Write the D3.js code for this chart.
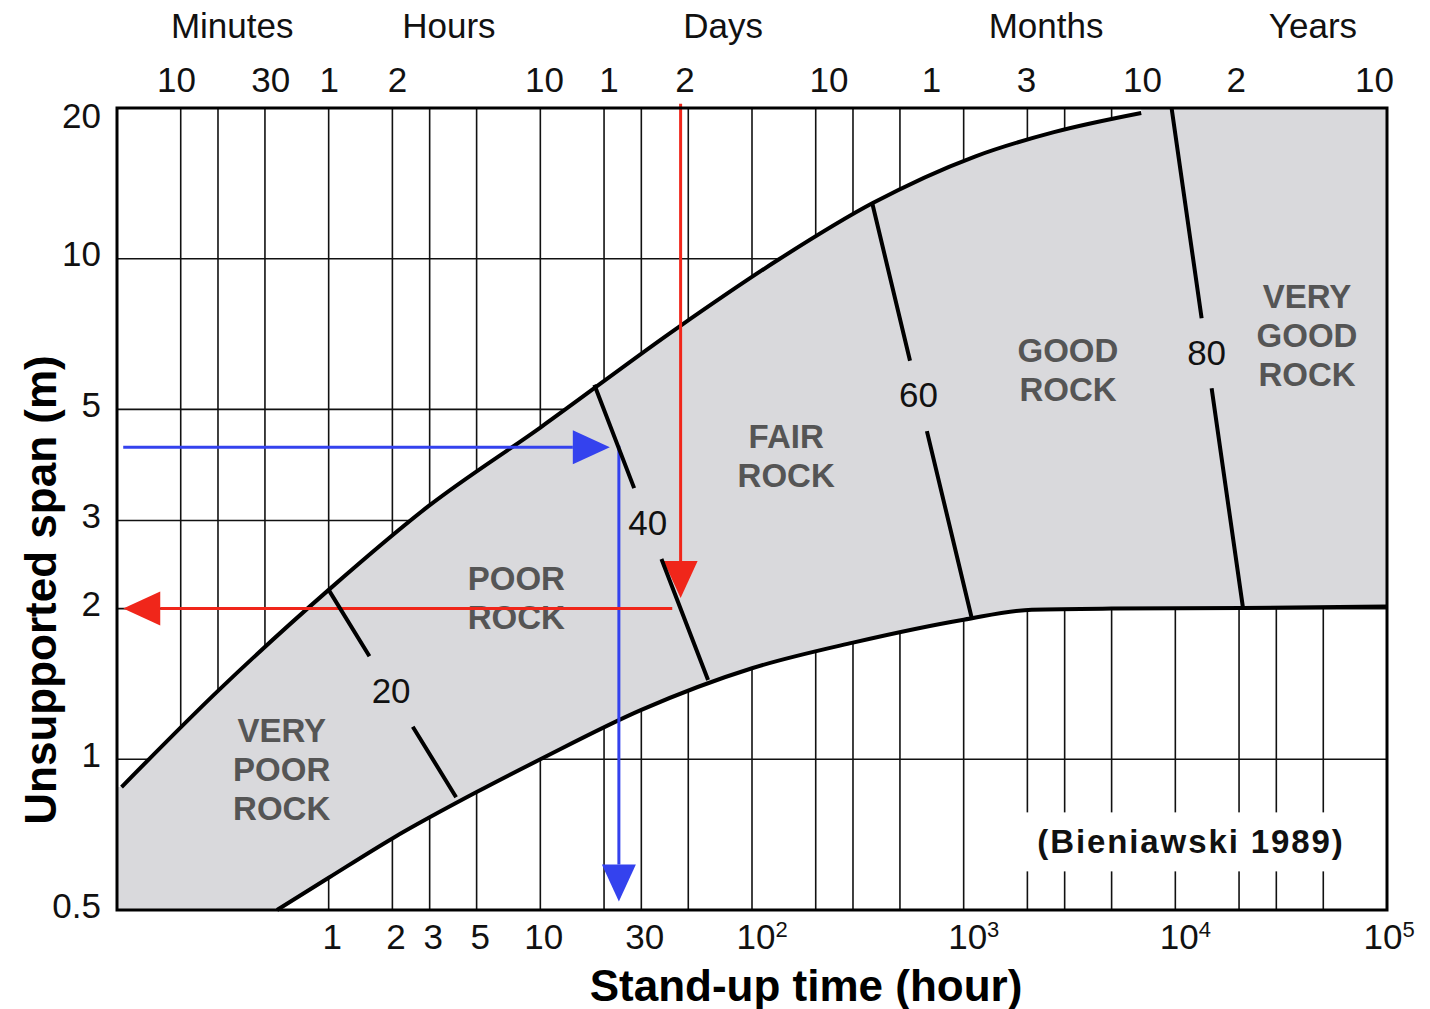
<!DOCTYPE html>
<html>
<head>
<meta charset="utf-8">
<script src="https://cdn.jsdelivr.net/npm/d3@7"></script>
<style>
  body { margin: 0; background: #fff; }
  svg { display: block; }
  text { font-family: "Liberation Sans", Arial, Helvetica, sans-serif; }
</style>
</head>
<body>
<svg id="chart" width="1430" height="1009"></svg>
<script>
// ---- axes ----
const spanTicks = [0.5, 1, 2, 3, 5, 10, 20];
const spanGrid = [1, 2, 3, 5, 10];
const timeGrid = [0.2, 0.3, 0.5, 1, 2, 3, 5, 10, 20, 30, 50, 100, 200, 300, 500,
                  1000, 2000, 3000, 5000, 10000, 20000, 30000, 50000];
const hourTicks = [1, 2, 3, 5, 10, 30, 100, 1000, 10000, 100000];
const hourTickBase = ["1", "2", "3", "5", "10", "30", "10", "10", "10", "10"];
const hourTickExp = ["", "", "", "", "", "", "2", "3", "4", "5"];

// calendar scale along the top (positions in hours)
const calTickPos = [0.19, 0.53, 1, 2.1, 10.4, 21, 48, 230, 700, 1970, 6950, 19300, 86800];
const calTickLabels = ["10", "30", "1", "2", "10", "1", "2", "10", "1", "3", "10", "2", "10"];
const unitNames = ["Minutes", "Hours", "Days", "Months", "Years"];
const unitPos = [0.35, 3.7, 73, 2450, 44700];

// ---- envelope of the rock-mass band (hours, span m) ----
const upperHours = [0.105, 0.3, 1.0, 2.95, 10, 45, 133, 370, 1130, 2670, 6900];
const upperSpan  = [0.88, 1.37, 2.18, 3.2, 4.6, 7.3, 9.95, 12.9, 16.0, 17.9, 19.55];
const lowerHours = [0.57, 1, 2, 5, 10, 30, 100, 300, 1000, 2100, 5000, 20900, 100000];
const lowerSpan  = [0.5, 0.58, 0.695, 0.86, 1.0, 1.255, 1.52, 1.71, 1.9, 1.99, 2.0, 2.005, 2.02];

// ---- RMR boundaries across the band ----
const rmrLabels = ["20", "40", "60", "80"];
const rmrTopHours = [1.0, 18, 370, 9600];
const rmrTopSpan  = [2.18, 5.6, 12.9, 20];
const rmrBotHours = [4.0, 62, 1090, 20900];
const rmrBotSpan  = [0.84, 1.44, 1.92, 2.0];
const rmrGapStart = [0.32, 0.35, 0.38, 0.42];
const rmrGapEnd   = [0.66, 0.59, 0.55, 0.56];

// ---- rock classes ----
const rockNames = [["VERY", "POOR", "ROCK"], ["POOR", "ROCK"], ["FAIR", "ROCK"],
                   ["GOOD", "ROCK"], ["VERY", "GOOD", "ROCK"]];
const rockHours = [0.6, 7.7, 145, 3110, 41900];
const rockSpan  = [1.144, 2.30, 4.42, 6.57, 8.42];

// ---- worked examples ----
const blueSpan = 4.2, blueHours = 23.5, blueTipHours = 21.3, blueEndSpan = 0.52, blueStartHours = 0.107;
const redHours = 46, redTopSpan = 20.4, redTipSpan = 2.1, redSpan = 2.0, redStartHours = 42, redEndHours = 0.107;

const source = "(Bieniawski 1989)";
const sourceHours = 11860, sourceSpan = 0.684;

const svg = d3.select("#chart");
const x = d3.scaleLog().domain([0.1, 1e5]).range([117, 1387]);
const y = d3.scaleLog().domain([0.5, 20]).range([910, 108]);
const [x0, x1] = x.range();
const [y0, y1] = y.range();

const GRAY = "#d9d9dc";
const BLUE = "#3442ee";
const RED = "#f0261a";

// grid
const grid = svg.append("g").attr("stroke", "#111").attr("stroke-width", 1.6);
grid.selectAll("line.v").data(timeGrid).join("line")
  .attr("x1", d => x(d)).attr("x2", d => x(d)).attr("y1", y1).attr("y2", y0);
grid.selectAll("line.h").data(spanGrid).join("line")
  .attr("x1", x0).attr("x2", x1).attr("y1", d => y(d)).attr("y2", d => y(d));

// source note on a clear patch
const srcText = svg.append("text")
  .attr("x", x(sourceHours)).attr("y", y(sourceSpan))
  .attr("text-anchor", "middle").attr("dominant-baseline", "central")
  .attr("font-size", 33).attr("font-weight", "bold").attr("letter-spacing", 1.9)
  .attr("fill", "#111").text(source);
const bb = srcText.node().getBBox();
svg.insert("rect", "text")
  .attr("x", bb.x - 12).attr("y", bb.y - 11).attr("width", bb.width + 24).attr("height", bb.height + 22)
  .attr("fill", "#fff");

// band edges
const upper = upperHours.map((h, i) => [x(h), y(upperSpan[i])]);
const lower = lowerHours.map((h, i) => [x(h), y(lowerSpan[i])]);
const line = d3.line().curve(d3.curveMonotoneX);
const bandLayer = svg.append("g");
const upperEdge = svg.append("path").attr("d", line(upper)).attr("fill", "none")
  .attr("stroke", "#000").attr("stroke-width", 4);
const lowerEdge = svg.append("path").attr("d", line(lower)).attr("fill", "none")
  .attr("stroke", "#000").attr("stroke-width", 4);

// gray fill between the edges
function sample(pathNode, n) {
  const L = pathNode.getTotalLength();
  return d3.range(n + 1).map(k => {
    const p = pathNode.getPointAtLength(L * k / n);
    return [p.x, p.y];
  });
}
const upPts = sample(upperEdge.node(), 300);
const loPts = sample(lowerEdge.node(), 300).reverse();
const ring = [[x0, y0], [x0, upPts[0][1]], ...upPts,
  [upPts[upPts.length - 1][0], y1], [x1, y1], ...loPts, [x0, y0]];
bandLayer.append("path").attr("d", "M" + ring.join("L") + "Z").attr("fill", GRAY);

// rock class names
rockNames.forEach((lines, i) => {
  const t = svg.append("text")
    .attr("x", x(rockHours[i])).attr("y", y(rockSpan[i]))
    .attr("text-anchor", "middle").attr("dominant-baseline", "central")
    .attr("font-size", 33).attr("font-weight", "bold").attr("fill", "#555");
  lines.forEach((w, j) => {
    t.append("tspan").attr("x", x(rockHours[i])).attr("dy", j === 0 ? 0 : 39).text(w);
  });
});

// arrows
function arrow(g, from, to, color) {
  const dx = to[0] - from[0], dy = to[1] - from[1];
  const L = Math.hypot(dx, dy), ux = dx / L, uy = dy / L;
  const len = 37, hw = 17;
  const bx = to[0] - ux * len, by = to[1] - uy * len;
  g.append("line").attr("x1", from[0]).attr("y1", from[1]).attr("x2", bx).attr("y2", by)
    .attr("stroke", color).attr("stroke-width", 3);
  g.append("path")
    .attr("d", `M${to[0]},${to[1]}L${bx - uy * hw},${by + ux * hw}L${bx + uy * hw},${by - ux * hw}Z`)
    .attr("fill", color);
}
const arrows = svg.append("g");
arrow(arrows, [x(blueStartHours), y(blueSpan)], [x(blueTipHours), y(blueSpan)], BLUE);
arrow(arrows, [x(blueHours), y(blueSpan) - 1.5], [x(blueHours), y(blueEndSpan)], BLUE);
arrow(arrows, [x(redStartHours), y(redSpan)], [x(redEndHours), y(redSpan)], RED);
arrow(arrows, [x(redHours), y(redTopSpan)], [x(redHours), y(redTipSpan)], RED);

// RMR boundaries, broken around their labels
rmrLabels.forEach((lab, i) => {
  const p = [x(rmrTopHours[i]), y(rmrTopSpan[i])];
  const q = [x(rmrBotHours[i]), y(rmrBotSpan[i])];
  const at = t => [p[0] + (q[0] - p[0]) * t, p[1] + (q[1] - p[1]) * t];
  const a = at(rmrGapStart[i]), b = at(rmrGapEnd[i]);
  const m = at((rmrGapStart[i] + rmrGapEnd[i]) / 2);
  svg.append("path").attr("d", `M${p}L${a}M${b}L${q}`)
    .attr("stroke", "#000").attr("stroke-width", 4).attr("fill", "none");
  svg.append("text").attr("x", m[0]).attr("y", m[1] - 1)
    .attr("text-anchor", "middle").attr("dominant-baseline", "central")
    .attr("font-size", 35).attr("fill", "#111").text(lab);
});

// frame
svg.append("rect").attr("x", x0).attr("y", y1).attr("width", x1 - x0).attr("height", y0 - y1)
  .attr("fill", "none").attr("stroke", "#000").attr("stroke-width", 3);

// axes
const yAxis = svg.append("g").attr("transform", `translate(${x0},0)`)
  .call(d3.axisLeft(y).tickValues(spanTicks).tickFormat(d3.format("~g")).tickSize(0).tickPadding(16));
const xAxis = svg.append("g").attr("transform", `translate(0,${y0})`)
  .call(d3.axisBottom(x).tickValues(hourTicks).tickFormat((d, i) => hourTickBase[i]).tickSize(0).tickPadding(14));
const topAxis = svg.append("g").attr("transform", `translate(0,${y1})`)
  .call(d3.axisTop(x).tickValues(calTickPos).tickFormat((d, i) => calTickLabels[i]).tickSize(0).tickPadding(16));
[yAxis, xAxis, topAxis].forEach(g => {
  g.select(".domain").remove();
  g.selectAll("text").attr("font-size", 35).attr("fill", "#111")
    .attr("font-family", '"Liberation Sans", Arial, sans-serif');
});
yAxis.selectAll(".tick text").attr("dy", d => d === 20 ? "0.55em" : "0.2em");
xAxis.selectAll(".tick text").each(function(d, i) {
  if (hourTickExp[i]) {
    // keep the last power label inside the window
    d3.select(this).attr("text-anchor", "start").attr("x", d === 100000 ? -24 : -16)
      .append("tspan").attr("font-size", 22).attr("dy", "-0.55em").text(hourTickExp[i]);
  } else {
    d3.select(this).attr("x", 3);
  }
});

svg.append("g").selectAll("text").data(unitNames).join("text")
  .attr("x", (d, i) => x(unitPos[i])).attr("y", 38)
  .attr("text-anchor", "middle").attr("font-size", 35).attr("fill", "#111").text(d => d);

// axis titles
svg.append("text").attr("x", 806).attr("y", 1001).attr("text-anchor", "middle")
  .attr("font-size", 44).attr("font-weight", "bold").attr("fill", "#000")
  .text("Stand-up time (hour)");
svg.append("text").attr("transform", `translate(56,${(y0 + y1) / 2 + 81}) rotate(-90)`)
  .attr("text-anchor", "middle")
  .attr("font-size", 44).attr("font-weight", "bold").attr("fill", "#000")
  .text("Unsupported span (m)");

srcText.raise();
</script>
</body>
</html>
